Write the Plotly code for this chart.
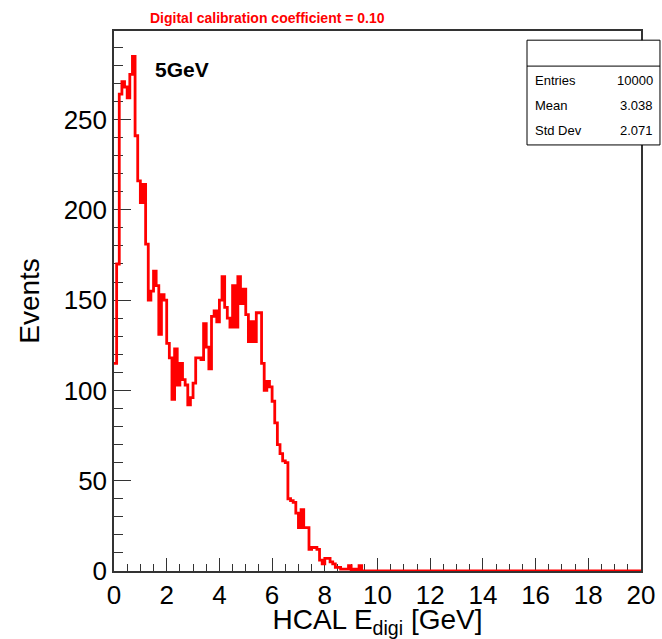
# HCAL digitised energy, 5 GeV sample (ROOT-style histogram)

import numpy as np
import plotly.graph_objects as go

# 200 bins of 0.1 GeV over [0, 20]
counts = [115, 170, 264, 271, 268, 262, 275, 285, 241, 216,
          204, 214, 181, 150, 155, 166, 158, 131, 153, 150,
          126, 118, 95, 123, 103, 115, 106, 103, 92, 96,
          104, 118, 118, 117, 137, 124, 112, 141, 144, 138,
          150, 163, 146, 140, 135, 158, 135, 163, 148, 156,
          142, 127, 138, 127, 143, 143, 115, 100, 105, 102,
          94, 82, 70, 65, 61, 60, 40, 39, 38, 32,
          24, 34, 24, 24, 12, 13, 13, 12, 6, 4,
          7, 7, 5, 4, 2, 2, 1, 1, 1, 3,
          0, 1, 0, 3, 0]
counts = counts + [0] * (200 - len(counts))
x_min, x_max = 0, 20

stat_names = ["Entries", "Mean", "Std Dev"]
stat_values = ["10000", "3.038", "2.071"]
x_ticks = list(range(0, 21, 2))
y_ticks = [0, 50, 100, 150, 200, 250]

edges = np.linspace(x_min, x_max, len(counts) + 1)
xs = list(edges)
ys = counts + [counts[-1]]

FONT = "Liberation Sans, Arial, Helvetica, sans-serif"
AX = "#333333"

fig = go.Figure()
fig.add_trace(go.Scatter(
    x=xs, y=ys, mode="lines", line=dict(color="#ff0000", width=2.8, shape="hv"),
    cliponaxis=False, showlegend=False, hoverinfo="skip"))

fig.update_layout(
    width=662, height=639,
    margin=dict(l=114, r=21, t=31, b=68),
    paper_bgcolor="white", plot_bgcolor="white",
    font=dict(family=FONT, color="black"),
    xaxis=dict(
        range=[x_min, x_max], tickvals=x_ticks, ticks="inside", ticklen=13,
        tickcolor=AX, tickwidth=1, showgrid=False, zeroline=False,
        showline=True, linecolor=AX, linewidth=1.5, mirror=True,
        layer="below traces", automargin=False,
        minor=dict(dtick=0.5, ticks="inside", ticklen=7, tickcolor=AX, showgrid=False),
        tickfont=dict(size=26, family=FONT),
        title=dict(text="HCAL E<sub>digi</sub> [GeV]", font=dict(size=28, family=FONT),
                   standoff=5)),
    yaxis=dict(
        range=[0, 299], tickvals=y_ticks, ticks="inside", ticklen=17,
        tickcolor=AX, tickwidth=1, showgrid=False, zeroline=False,
        showline=True, linecolor=AX, linewidth=1.5, mirror=True,
        layer="below traces", automargin=False,
        minor=dict(dtick=10, ticks="inside", ticklen=9, tickcolor=AX, showgrid=False),
        tickfont=dict(size=26, family=FONT),
        title=dict(text="Events", font=dict(size=28, family=FONT), standoff=16)),
)

# stats box
fig.add_shape(type="rect", xref="paper", yref="paper",
              x0=0.7837, x1=1.036, y0=0.789, y1=0.983,
              fillcolor="white", line=dict(color="black", width=1), layer="above")
fig.add_shape(type="line", xref="paper", yref="paper",
              x0=0.7837, x1=1.036, y0=0.935, y1=0.935,
              line=dict(color="black", width=1), layer="above")
for i, (name, val) in enumerate(zip(stat_names, stat_values)):
    yy = 0.909 - i * 0.0463
    fig.add_annotation(x=0.795, y=yy, xref="paper", yref="paper", text=name,
                       showarrow=False, xanchor="left", yanchor="middle",
                       font=dict(size=13, family=FONT, color="black"))
    fig.add_annotation(x=1.027, y=yy, xref="paper", yref="paper", text=val,
                       showarrow=False, xanchor="right", yanchor="middle",
                       font=dict(size=13, family=FONT, color="black"))

fig.add_annotation(x=0.292, y=1.024, xref="paper", yref="paper",
                   text="<b>Digital calibration coefficient = 0.10</b>",
                   showarrow=False, xanchor="center", yanchor="middle",
                   font=dict(size=14, family=FONT, color="#ff0000"))
fig.add_annotation(x=0.074, y=0.928, xref="paper", yref="paper",
                   text="<b>5GeV</b>", showarrow=False, xanchor="left", yanchor="middle",
                   font=dict(size=21, family=FONT, color="black"))

# drop the default 8px body margin so the figure fills the window exactly
fig.write_html("out.html", config={"displayModeBar": False},
               post_script="document.body.style.margin='0';")
